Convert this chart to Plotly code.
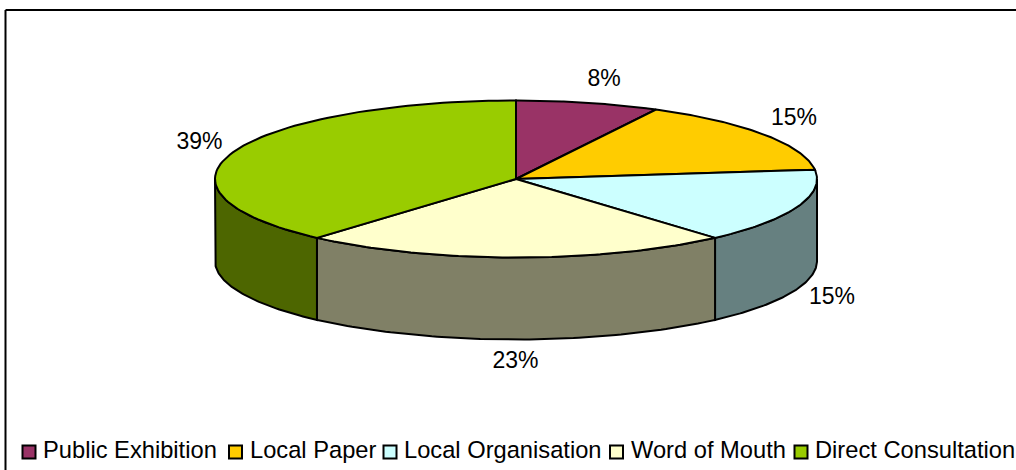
import numpy as np
import plotly.graph_objects as go

categories = ["Public Exhibition", "Local Paper", "Local Organisation", "Word of Mouth", "Direct Consultation"]
values = [7.7, 15.4, 15.4, 23.0, 38.5]
percent_labels = ["8%", "15%", "15%", "23%", "39%"]
top_colors = ["#993366", "#FFCC00", "#CCFFFF", "#FFFFCC", "#99CC00"]
side_colors = ["#4D1A33", "#806600", "#668080", "#808066", "#4D6600"]

# layout of the fake 3d pie, in pixels of the 1016x470 page
cx, cy = 516, 179
rx, ry = 301, 78.5
depth = 82
label_x = [604, 794, 832, 515.5, 199.5]
label_y = [80.5, 119, 298.5, 362, 143.5]
legend_x = [29, 235.5, 390, 616.5, 801]
legend_y = 452
legend_text_offset = 14


def arc(t0, t1, dy=0):
    t = np.radians(np.linspace(t0, t1, 80))
    return cx + rx * np.sin(t), cy - ry * np.cos(t) + dy


edges = np.cumsum([0] + values) * 360 / sum(values)

fig = go.Figure()

# side walls first, only the front half of the rim can be seen
for i, name in enumerate(categories):
    t0, t1 = max(edges[i], 90), min(edges[i + 1], 270)
    if t0 >= t1:
        continue
    x_top, y_top = arc(t0, t1)
    x_bot, y_bot = arc(t1, t0, depth)
    fig.add_trace(
        go.Scatter(
            x=np.r_[x_top, x_bot, x_top[0]],
            y=np.r_[y_top, y_bot, y_top[0]],
            mode="lines",
            fill="toself",
            fillcolor=side_colors[i],
            line=dict(color="black", width=2),
            name=name,
            showlegend=False,
            hoverinfo="skip",
        )
    )

# top of the pie
for i, name in enumerate(categories):
    x_arc, y_arc = arc(edges[i], edges[i + 1])
    fig.add_trace(
        go.Scatter(
            x=np.r_[cx, x_arc, cx],
            y=np.r_[cy, y_arc, cy],
            mode="lines",
            fill="toself",
            fillcolor=top_colors[i],
            line=dict(color="black", width=2),
            name=name,
            showlegend=False,
            hoverinfo="text",
            text=f"{name}: {percent_labels[i]}",
        )
    )

# percentage labels
fig.add_trace(
    go.Scatter(
        x=label_x,
        y=label_y,
        mode="text",
        text=percent_labels,
        textposition="middle center",
        textfont=dict(family="Liberation Sans", size=23, color="black"),
        showlegend=False,
        hoverinfo="skip",
    )
)

# legend row, plotly's own legend can't get this tight
fig.add_trace(
    go.Scatter(
        x=legend_x,
        y=[legend_y] * len(categories),
        mode="markers",
        marker=dict(symbol="square", size=13, color=top_colors, line=dict(color="black", width=2)),
        showlegend=False,
        hoverinfo="skip",
    )
)
for x, name in zip(legend_x, categories):
    fig.add_annotation(
        x=x + legend_text_offset,
        y=legend_y - 2,
        text=name,
        showarrow=False,
        xanchor="left",
        yanchor="middle",
        xshift=-1,
        borderpad=0,
        font=dict(family="Liberation Sans", size=23.7, color="black"),
    )

# the chart border is cropped, only top and left edges are left
fig.add_shape(type="line", x0=5.5, x1=1016, y0=10, y1=10, line=dict(color="black", width=2))
fig.add_shape(type="line", x0=5.5, x1=5.5, y0=10, y1=470, line=dict(color="black", width=2))

fig.update_xaxes(range=[0, 1016], visible=False, fixedrange=True)
fig.update_yaxes(range=[470, 0], visible=False, fixedrange=True)
fig.update_layout(
    width=1016,
    height=470,
    margin=dict(l=0, r=0, t=0, b=0),
    paper_bgcolor="white",
    plot_bgcolor="white",
    showlegend=False,
)

# the page's default body margin would push the figure 8px in
fig.write_html(
    "out.html",
    config={"displayModeBar": False},
    post_script="document.body.style.margin='0';document.body.style.overflow='hidden';",
)
